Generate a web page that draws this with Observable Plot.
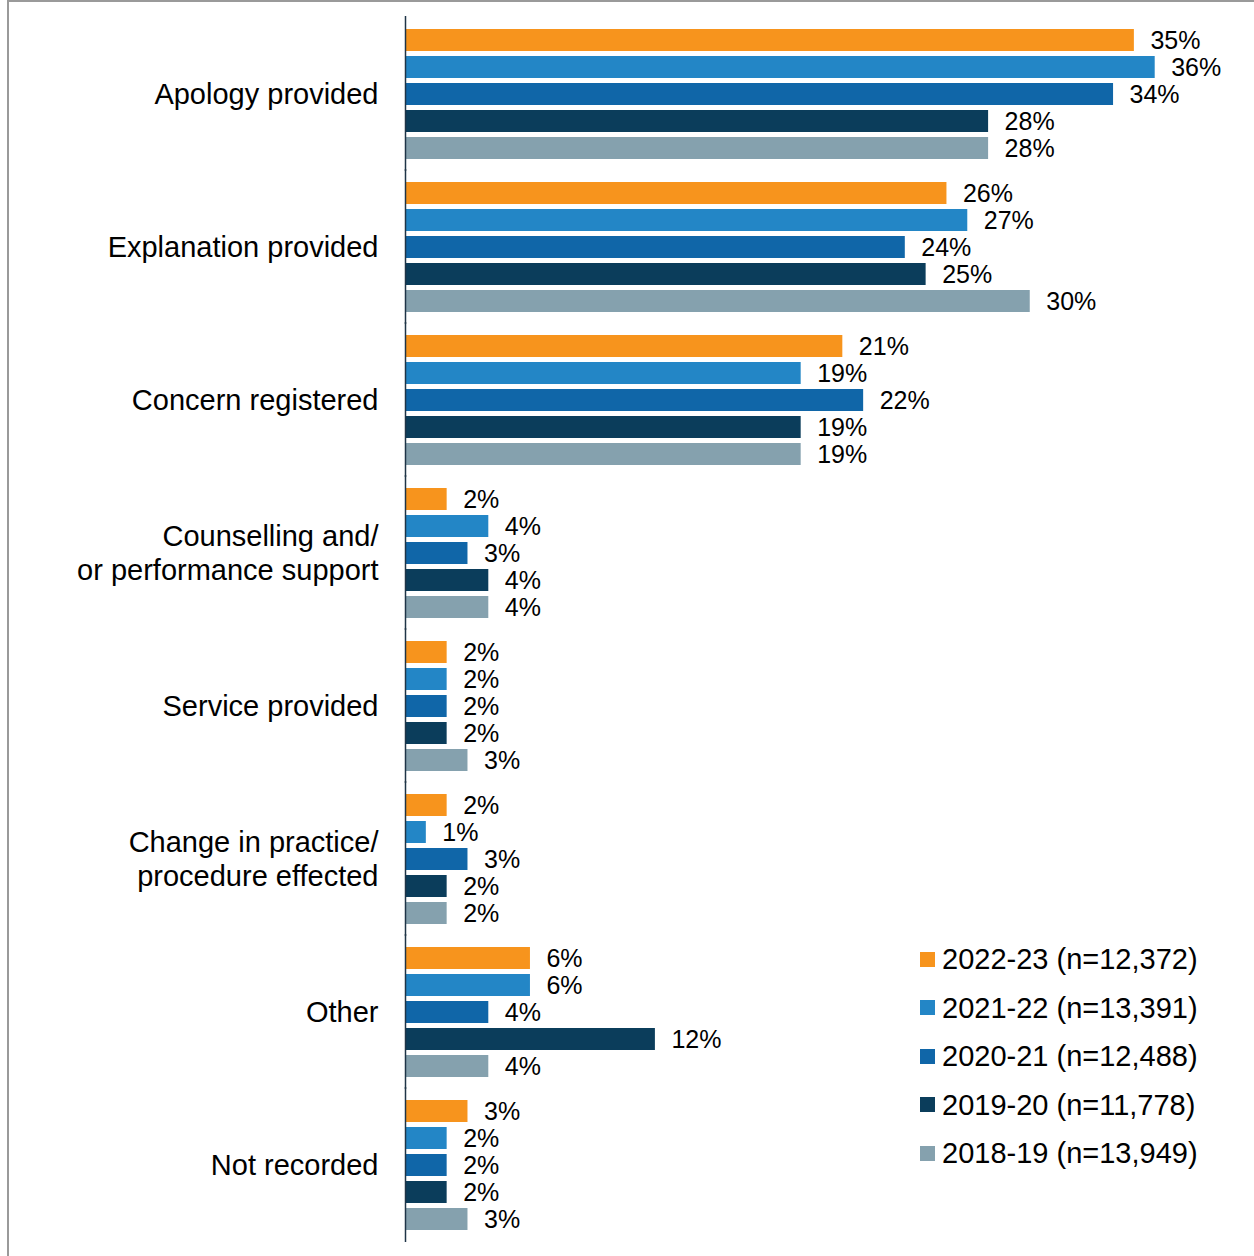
<!DOCTYPE html>
<html>
<head>
<meta charset="utf-8">
<script src="https://cdn.jsdelivr.net/npm/d3@7"></script>
<script src="https://cdn.jsdelivr.net/npm/@observablehq/plot@0.6"></script>
<style>
  html, body { margin: 0; padding: 0; background: #fff; }
  body { width: 1254px; height: 1256px; position: relative; overflow: hidden;
         font-family: "Liberation Sans", Arial, sans-serif; }
  #frame { position: absolute; left: 7px; top: 0px; width: 1300px; height: 1300px;
           border-left: 2px solid #9a9a9a; border-top: 2px solid #9a9a9a; box-sizing: border-box; }
  #chart { position: absolute; left: 0; top: 0; }
  #legend { position: absolute; left: 920px; top: 935px; font-size: 29px; color: #000; }
  #legend .row { height: 48.5px; line-height: 48.5px; display: flex; align-items: center; white-space: nowrap; }
  #legend .sw { width: 15px; height: 15px; margin-right: 7px; flex: none; }
</style>
</head>
<body>
<div id="frame"></div>
<div id="chart"></div>
<div id="legend"></div>
<script>
// ---- data ----
const categories = [
  "Apology provided",
  "Explanation provided",
  "Concern registered",
  "Counselling and/\nor performance support",
  "Service provided",
  "Change in practice/\nprocedure effected",
  "Other",
  "Not recorded"
];
const series = ["2022-23", "2021-22", "2020-21", "2019-20", "2018-19"];
const seriesN = ["12,372", "13,391", "12,488", "11,778", "13,949"];
const values2022_23 = [35, 26, 21, 2, 2, 2, 6, 3];
const values2021_22 = [36, 27, 19, 4, 2, 1, 6, 2];
const values2020_21 = [34, 24, 22, 3, 2, 3, 4, 2];
const values2019_20 = [28, 25, 19, 4, 2, 2, 12, 2];
const values2018_19 = [28, 30, 19, 4, 3, 2, 4, 3];
const colors = ["#F7941D", "#2386C6", "#1066A8", "#0B3D5B", "#85A1AE"];

const seriesValues = [values2022_23, values2021_22, values2020_21, values2019_20, values2018_19];
const table = [];
categories.forEach((c, i) => {
  series.forEach((s, j) => {
    table.push({category: c, series: s, value: seriesValues[j][i]});
  });
});

const chart = Plot.plot({
  width: 1254,
  height: 1256,
  marginLeft: 405,
  marginRight: 16,
  marginTop: 24,
  marginBottom: 23,
  style: {fontFamily: '"Liberation Sans", Arial, sans-serif', fontSize: "25px", color: "#000", background: "transparent"},
  x: {domain: [0, 40], axis: null},
  y: {domain: series, axis: null, paddingInner: 0.2, paddingOuter: 0.1},
  fy: {domain: categories, axis: null, paddingInner: 0.1054, paddingOuter: 0},
  color: {domain: series, range: colors},
  marks: [
    Plot.barX(table, {x: "value", y: "series", fy: "category", fill: "series"}),
    Plot.text(table, {x: "value", y: "series", fy: "category", text: d => d.value + "%",
      textAnchor: "start", dx: 16, fontSize: 25, fill: "#000"}),
    Plot.text(categories, {fy: d => d, text: d => d, frameAnchor: "left", textAnchor: "end",
      dx: -27, dy: -1, fontSize: 29, lineHeight: 1.17, fill: "#000"}),
    Plot.ruleX([0], {stroke: "#1f3447", strokeWidth: 1.5, strokeLinecap: "butt", insetTop: -9, insetBottom: -9})
  ]
});
document.getElementById("chart").appendChild(chart);

const legend = document.getElementById("legend");
series.forEach((s, j) => {
  const row = document.createElement("div");
  row.className = "row";
  const sw = document.createElement("span");
  sw.className = "sw";
  sw.style.background = colors[j];
  const t = document.createElement("span");
  t.textContent = `${s} (n=${seriesN[j]})`;
  row.appendChild(sw);
  row.appendChild(t);
  legend.appendChild(row);
});
</script>
</body>
</html>
